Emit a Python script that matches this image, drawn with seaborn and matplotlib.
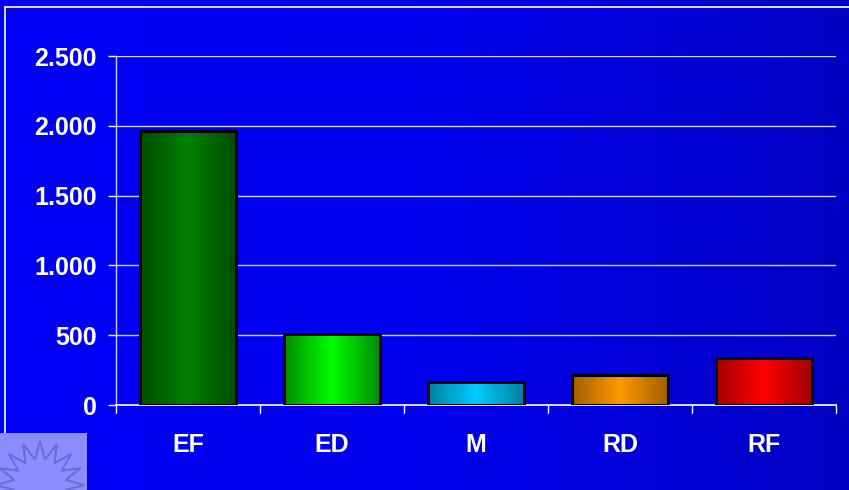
import numpy as np
import pandas as pd
import matplotlib
matplotlib.use("Agg")
import matplotlib.pyplot as plt
from matplotlib.colors import LinearSegmentedColormap
from matplotlib.patches import Rectangle, Polygon
from matplotlib.ticker import FuncFormatter
import seaborn as sns

# ----------------- data -----------------
categories = ["EF", "ED", "M", "RD", "RF"]
values = [1965, 512, 162, 218, 336]
# (edge, centre) colours for the cylinder-like shading
bar_edges = ["#004d00", "#008c00", "#0080a0", "#a06000", "#a00000"]
bar_centres = ["#008000", "#00ff00", "#00ccff", "#ff9900", "#ff0000"]
y_ticks = [0, 500, 1000, 1500, 2000, 2500]
# -----------------------------------------

sns.set_theme(style="white")
plt.rcParams["font.family"] = ["Liberation Sans", "DejaVu Sans"]

fig = plt.figure(figsize=(8.49, 4.9), dpi=100)

# background blue gradient
bg = fig.add_axes([0, 0, 1, 1], zorder=-10)
grad = np.linspace(0, 1, 256).reshape(1, -1)
bg_cmap = LinearSegmentedColormap.from_list("bg", ["#0000f4", "#0000ee", "#0000c4"])
bg.imshow(grad, aspect="auto", cmap=bg_cmap, extent=[0, 1, 0, 1])
bg.set_xlim(0, 1)
bg.set_ylim(0, 1)
bg.axis("off")
# white frame
bg.add_patch(Rectangle((5 / 849, -0.1), 1.2, 1 - 7 / 490 + 0.1, fill=False,
                       edgecolor="white", linewidth=1.2))
# logo block bottom-left
bg.add_patch(Rectangle((0, 0), 87 / 849, 57 / 490, facecolor="#8c8cff",
                       edgecolor="none"))
cx, cy = 40 / 849, 5 / 490
ang = np.linspace(0, 2 * np.pi, 33)
r = np.where(np.arange(33) % 2 == 0, 44, 26)
pts = np.column_stack([cx + r * np.cos(ang) / 849, cy + r * np.sin(ang) / 490])
bg.add_patch(Polygon(pts, closed=True, fill=False, edgecolor="#6c6cdc", linewidth=1.5))

ax = fig.add_axes([116 / 849, 1 - 405 / 490, (836 - 116) / 849, (405 - 56) / 490])
ax.patch.set_alpha(0)

df = pd.DataFrame({"cat": categories, "val": values})
sns.barplot(data=df, x="cat", y="val", ax=ax, width=0.66, color="gray",
            edgecolor="black", linewidth=2.2, zorder=3)

# gradient fill inside each bar
for patch, e, c in zip(ax.patches, bar_edges, bar_centres):
    patch.set_facecolor("none")
    x0, y0 = patch.get_x(), patch.get_y()
    w, h = patch.get_width(), patch.get_height()
    cmap = LinearSegmentedColormap.from_list("b", [e, c, e])
    im = ax.imshow(grad, aspect="auto", cmap=cmap,
                   extent=[x0, x0 + w, y0, y0 + h], zorder=2)
    im.set_clip_path(patch)

ax.set_xlim(-0.5, len(categories) - 0.5)
ax.set_ylim(0, 2500)
ax.set_yticks(y_ticks)
ax.yaxis.set_major_formatter(FuncFormatter(lambda v, p: f"{int(v):,}".replace(",", ".")))
ax.set_xlabel("")
ax.set_ylabel("")

for g in y_ticks[1:]:
    ax.axhline(g, color="#d0d0ff", linewidth=1, zorder=1)

for s in ["top", "right"]:
    ax.spines[s].set_visible(False)
ax.spines["left"].set_color("#d0d0ff")
ax.spines["bottom"].set_color("white")
ax.spines["left"].set_linewidth(1)
ax.spines["bottom"].set_linewidth(1.2)

ax.tick_params(axis="y", colors="white", labelsize=18, length=6, width=1,
               direction="out", left=True, pad=8)
ax.tick_params(axis="x", colors="white", labelsize=18, length=0, pad=20)
for lab in ax.get_yticklabels() + ax.get_xticklabels():
    lab.set_fontweight("bold")
    lab.set_color("white")

# category boundary ticks on the x axis
for b in np.arange(-0.5, len(categories), 1.0):
    ax.plot([b, b], [0, -55], color="white", linewidth=1, clip_on=False, zorder=4)

fig.savefig("out.png", dpi=100)
